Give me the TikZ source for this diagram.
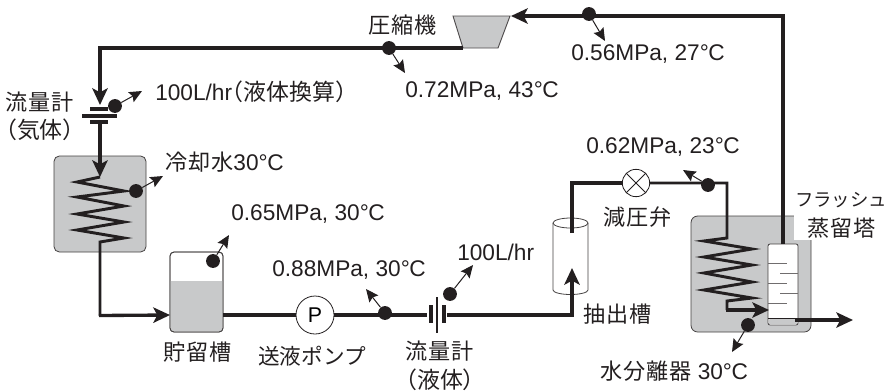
\documentclass[tikz,border=0pt]{standalone}
\usepackage{fontspec}
\setmainfont{Liberation Sans}
\newfontfamily\cjk[LetterSpace=4]{Noto Sans CJK JP}
\newfontfamily\cjkhalf[RawFeature=+halt]{Noto Sans CJK JP}
\newfontfamily\cjkplain{Noto Sans CJK JP}
\usetikzlibrary{arrows.meta,calc}
\definecolor{panel}{HTML}{C8C9CA}
\definecolor{ink}{HTML}{231F20}
\newcommand{\degC}{°\kern-0.02em C}
\newcommand{\jfont}{\cjk\fontsize{16.6pt}{18pt}\selectfont}
\newcommand{\hfontj}{\cjkhalf\fontsize{17.2pt}{18pt}\selectfont}
\tikzset{
  x=0.75pt,y=-0.75pt,
  pipe/.style={draw=ink,line width=2.5pt,line join=miter},
  flow/.style={pipe,-{Stealth[length=12.5pt,width=11.5pt,inset=3pt]}},
  lead/.style={draw=ink,line width=0.75pt,-{Stealth[length=9.5pt,width=8.5pt,inset=1.5pt]}},
  probe/.style={circle,fill=ink,inner sep=0pt,minimum size=10.4pt},
  lab/.style={anchor=west,inner sep=0pt,text=ink,font=\fontsize{17pt}{19pt}\selectfont},
  jlab/.style={anchor=center,inner sep=0pt,text=ink,font=\jfont},
  vessel/.style={draw=ink!85,line width=0.6pt,rounded corners=3pt},
  bar/.style={draw=ink,line width=2.4pt},
  tray/.style={draw=ink!65,line width=0.7pt},
}
\begin{document}
\begin{tikzpicture}
\useasboundingbox (0,0) rectangle (888,390);
% vessels
\node[vessel,fill=panel,minimum width=69pt,minimum height=72pt,inner sep=0pt,rounded corners=4pt] (cooler) at (100,204) {};
\node[vessel,fill=panel,minimum width=90pt,minimum height=87pt,inner sep=0pt,rounded corners=5pt] (separator) at (751,274) {};
\fill[white] (794,205) rectangle (888,240);
\draw[vessel,fill=white] (170,332) rectangle (223,252);
\fill[panel,rounded corners=3pt] (170.4,331.6) -- (222.6,331.6) -- (222.6,281) -- (170.4,281) -- cycle;
\fill[panel] (170.4,281) rectangle (222.6,320);
\draw[vessel] (170,332) rectangle (223,252);
\coordinate (tankin) at (170,315);
\coordinate (tankout) at (223,315);
% column
\draw[vessel,fill=white,rounded corners=1.5pt] (768,244) rectangle (798,325);
\fill[panel,rounded corners=1.5pt] (768.5,319) rectangle (797.5,324.5);
\draw[tray] (768,263)--(787,263) (780,273)--(798,273) (768,283)--(787,283) (780,293)--(798,293) (768,303)--(787,303);
\draw[draw=ink,line width=0.5pt] (768,318)--(798,318);
\coordinate (coltop) at (783,244);
\coordinate (colin) at (769,310);
\coordinate (colout) at (795,320);
% cylinder
\draw[draw=ink!85,line width=0.6pt] (553,223) -- (553,290) arc[start angle=180,end angle=360,x radius=17.5,y radius=-4.5] -- (588,223);
\draw[draw=ink!85,line width=0.6pt] (570.5,223) ellipse[x radius=17.5,y radius=-5];
% compressor
\draw[draw=ink!80,fill=panel,line width=0.7pt] (453,16) -- (510,16) -- (498,48) -- (463,48) -- cycle;
\coordinate (compin) at (511,16);
\coordinate (compout) at (463,48);
% pump and valve
\node[circle,draw=ink,line width=0.6pt,fill=white,minimum size=28.5pt,inner sep=0pt,font=\fontsize{16pt}{18pt}\selectfont] (pump) at (315,315) {P};
\node[circle,draw=ink,line width=0.6pt,fill=white,minimum size=20.5pt,inner sep=0pt] (valve) at (636,183) {};
\draw[ink,line width=0.6pt] (valve.north west)--(valve.south east) (valve.north east)--(valve.south west);
% gas flow meter
\draw[bar] (90,109)--(108,109) (82,116)--(117,116) (90,122)--(108,122);
% liquid flow meter
\draw[bar] (431,305)--(431,323) (444,305)--(444,323);
\draw[ink,line width=1.8pt] (437,297)--(437,333);
% pipes
\coordinate (c1) at (783,16);
\draw[flow] (coltop) -- (c1) -- (compin);
\draw[flow] (compout) -- (100,48) -- (100,105);
\draw[flow] (100,122) -- (100,177);
\coordinate (coil1a) at (100,177);
\draw[pipe,line width=2.2pt] (coil1a) -- (77,182) -- (124,191) -- (77,197) -- (124,206) -- (77,214) -- (124,222) -- (77,230) -- (124,238) -- (100,242) -- (100,316);
\draw[flow] (99,315.5) -- (tankin);
\draw[pipe] (tankout) -- (pump.west);
\draw[pipe] (pump.east) -- (427,315);
\draw[flow] (447,315) -- (572,315) -- (572,268);
\draw[pipe] (572,233) -- (572,183) -- (valve.west);
\draw[pipe,line width=2.2pt] (valve.east) -- (727,183) -- (727,238) -- (704,241) -- (752,249) -- (704,257) -- (752,265) -- (704,273) -- (752,282) -- (704,290) -- (752,298) -- (727,301) -- (727,310);
\draw[flow] (726,310) -- (colin);
\draw[flow] (colout) -- (853,320);
% probes
\node[probe] (p1) at (589,14) {}; \coordinate (e1) at (605,41);
\node[probe] (p2) at (389,48) {}; \coordinate (e2) at (405,73);
\node[probe] (p3) at (115,106) {}; \coordinate (e3) at (142,91);
\node[probe] (p4) at (136,191) {}; \coordinate (e4) at (163,176);
\node[probe] (p5) at (213,261) {}; \coordinate (e5) at (229,235);
\node[probe] (p6) at (385,313) {}; \coordinate (e6) at (366,289);
\node[probe] (p7) at (450,294) {}; \coordinate (e7) at (473,265);
\node[probe] (p8) at (708,185) {}; \coordinate (e8) at (683,170);
\node[probe] (p9) at (748,325) {}; \coordinate (e9) at (732,352);
\foreach \i in {1,...,9} \draw[lead] (p\i) -- (e\i);
% labels
\node[jlab] (t1) at (403,25) {圧縮機};
\node[lab] (t2) at (571,54) {0.56MPa, 27\degC};
\node[lab] (t3) at (155,92) {100L/hr{\hfontj（液体換算）}};
\node[lab] (t4) at (405,91) {0.72MPa, 43\degC};
\node[jlab] (t5) at (40,102) {流量計};
\node[jlab,font=\hfontj] (t6) at (40,130) {（気体）};
\node[lab] (t7) at (165,162) {{\jfont 冷却水}30\degC};
\node[lab] (t8) at (586,147) {0.62MPa, 23\degC};
\node[jlab,font=\cjkplain\fontsize{13.8pt}{16pt}\selectfont] (t9) at (841,200) {フラッシュ};
\node[jlab] (t10) at (842,228) {蒸留塔};
\node[jlab] (t11) at (638,217) {減圧弁};
\node[lab] (t12) at (231,214) {0.65MPa, 30\degC};
\node[lab] (t13) at (272,270) {0.88MPa, 30\degC};
\node[lab] (t14) at (457,252) {100L/hr};
\node[jlab] (t15) at (618,314) {抽出槽};
\node[jlab] (t16) at (198,352) {貯留槽};
\node[jlab,font=\cjkplain\fontsize{16.2pt}{18pt}\selectfont] (t17) at (312,356) {送液ポンプ};
\node[jlab] (t18) at (440,351) {流量計};
\node[jlab,font=\hfontj] (t19) at (440,380) {（液体）};
\node[lab] (t20) at (600,371) {{\jfont 水分離器} 30\degC};
\end{tikzpicture}
\end{document}
